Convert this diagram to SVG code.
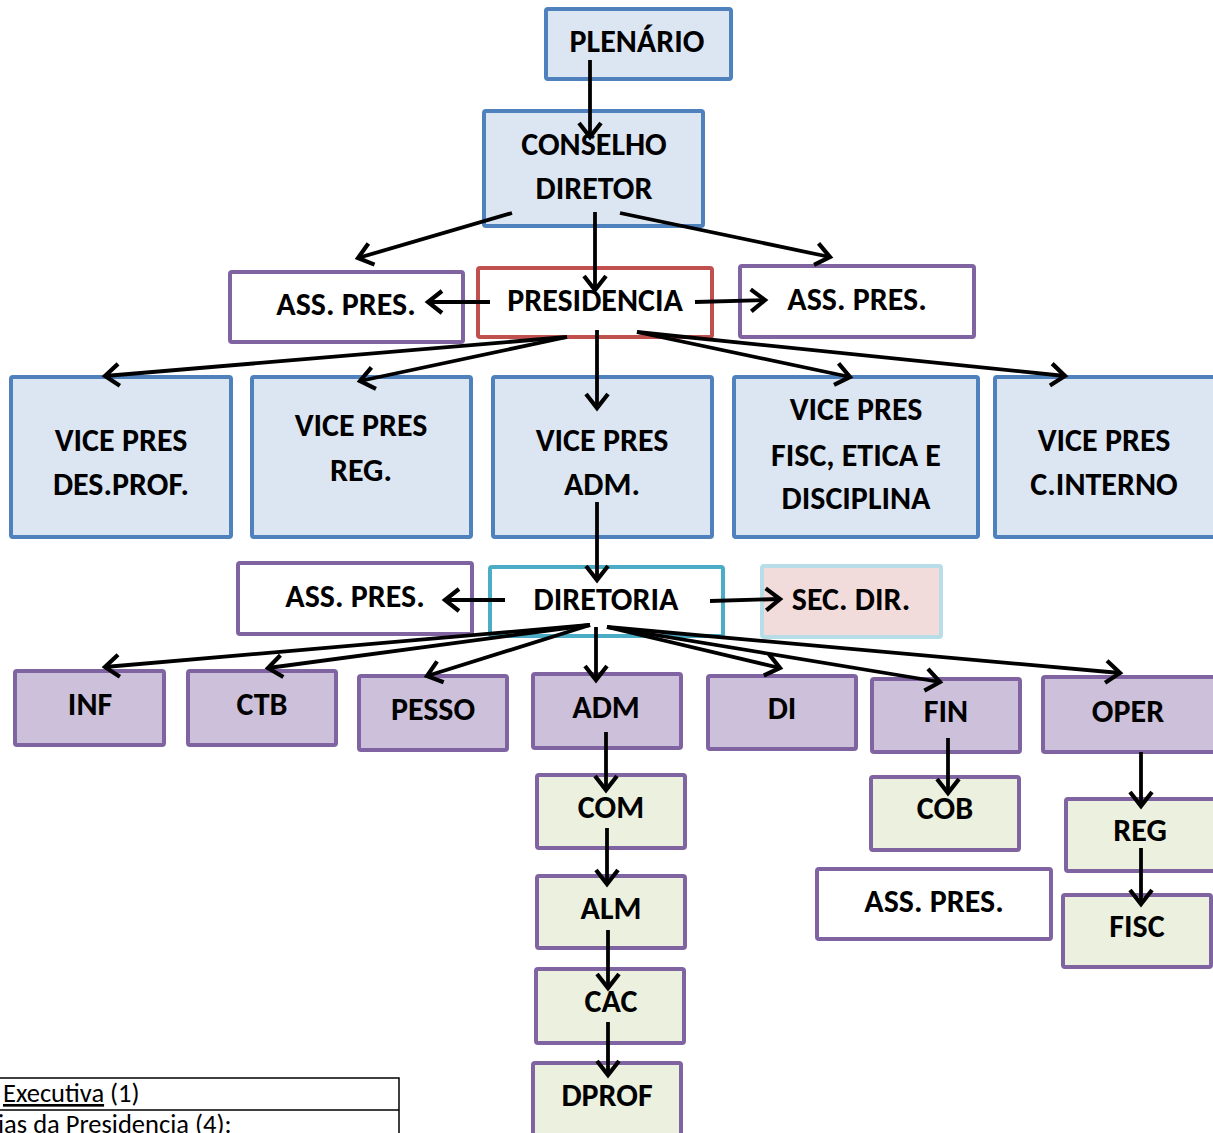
<svg xmlns="http://www.w3.org/2000/svg" width="1213" height="1133" viewBox="0 0 1213 1133">
<style>
text{font-family:Carlito,Lato,"Open Sans","Liberation Sans",sans-serif;font-weight:bold;font-size:32px;fill:#000;text-anchor:middle}
.blue{fill:#DCE6F2;stroke:#4F81BD;stroke-width:4}
.red{fill:#fff;stroke:#C0504D;stroke-width:4}
.pw{fill:#fff;stroke:#8064A2;stroke-width:4}
.pp{fill:#CCC0DA;stroke:#8064A2;stroke-width:4}
.pg{fill:#EBF1DE;stroke:#8064A2;stroke-width:4}
.cy{fill:#fff;stroke:#4BACC6;stroke-width:4}
.sec{fill:#F2DCDB;stroke:#B7DDE8;stroke-width:4}
.c line{stroke:#000;stroke-width:3.8;marker-end:url(#ah)}
.tbl{font-family:Carlito,Lato,"Liberation Sans",sans-serif;font-weight:normal;font-size:26.5px;text-anchor:start}
</style>
<defs>
<marker id="ah" markerUnits="userSpaceOnUse" viewBox="0 0 20 26" markerWidth="20" markerHeight="26" refX="16" refY="13" orient="auto" overflow="visible">
<path d="M2,2 L16,13 L2,24" fill="none" stroke="#000" stroke-width="4.2"/>
</marker>
</defs>

<g id="plenario"><rect class="blue" x="546" y="9" width="185" height="70" rx="2"/><text x="637" y="52">PLENÁRIO</text></g>
<g id="conselho"><rect class="blue" x="484" y="111" width="219" height="115" rx="2"/><text x="594" y="155">CONSELHO</text><text x="594" y="199">DIRETOR</text></g>
<g id="presidencia"><rect class="red" x="478" y="268" width="234" height="69" rx="2"/><text x="595" y="311">PRESIDENCIA</text></g>
<g id="ass1"><rect class="pw" x="230" y="272" width="233" height="70" rx="2"/><text x="346" y="315">ASS. PRES.</text></g>
<g id="ass2"><rect class="pw" x="740" y="266" width="234" height="71" rx="2"/><text x="857" y="310">ASS. PRES.</text></g>

<g id="vp1"><rect class="blue" x="11" y="377" width="220" height="160" rx="2"/><text x="121" y="451">VICE PRES</text><text x="121" y="495">DES.PROF.</text></g>
<g id="vp2"><rect class="blue" x="252" y="377" width="219" height="160" rx="2"/><text x="361" y="436">VICE PRES</text><text x="361" y="481">REG.</text></g>
<g id="vp3"><rect class="blue" x="493" y="377" width="219" height="160" rx="2"/><text x="602" y="451">VICE PRES</text><text x="602" y="495">ADM.</text></g>
<g id="vp4"><rect class="blue" x="734" y="377" width="244" height="160" rx="2"/><text x="856" y="420">VICE PRES</text><text x="856" y="466">FISC, ETICA E</text><text x="856" y="509">DISCIPLINA</text></g>
<g id="vp5"><rect class="blue" x="995" y="377" width="220" height="160" rx="2"/><text x="1104" y="451">VICE PRES</text><text x="1104" y="495">C.INTERNO</text></g>

<g id="diretoria"><rect class="cy" x="490" y="567" width="233" height="69" rx="2"/><text x="606" y="610">DIRETORIA</text></g>
<g id="ass3"><rect class="pw" x="238" y="563" width="234" height="71" rx="2"/><text x="355" y="607">ASS. PRES.</text></g>
<g id="secdir"><rect class="sec" x="762" y="566" width="179" height="71" rx="2"/><text x="851" y="610">SEC. DIR.</text></g>

<g id="inf"><rect class="pp" x="15" y="671" width="149" height="74" rx="2"/><text x="90" y="715">INF</text></g>
<g id="ctb"><rect class="pp" x="188" y="671" width="148" height="74" rx="2"/><text x="262" y="715">CTB</text></g>
<g id="pesso"><rect class="pp" x="359" y="676" width="148" height="74" rx="2"/><text x="433" y="720">PESSO</text></g>
<g id="adm"><rect class="pp" x="533" y="674" width="148" height="74" rx="2"/><text x="606" y="718">ADM</text></g>
<g id="di"><rect class="pp" x="708" y="676" width="148" height="73" rx="2"/><text x="782" y="719">DI</text></g>
<g id="fin"><rect class="pp" x="872" y="679" width="148" height="73" rx="2"/><text x="946" y="722">FIN</text></g>
<g id="oper"><rect class="pp" x="1043" y="677" width="172" height="75" rx="2"/><text x="1128" y="722">OPER</text></g>

<g id="com"><rect class="pg" x="537" y="775" width="148" height="73" rx="2"/><text x="611" y="818">COM</text></g>
<g id="alm"><rect class="pg" x="537" y="876" width="148" height="72" rx="2"/><text x="611" y="919">ALM</text></g>
<g id="cac"><rect class="pg" x="536" y="969" width="148" height="74" rx="2"/><text x="611" y="1012">CAC</text></g>
<g id="dprof"><rect class="pg" x="533" y="1063" width="148" height="80" rx="2"/><text x="607" y="1106">DPROF</text></g>
<g id="cob"><rect class="pg" x="871" y="777" width="148" height="73" rx="2"/><text x="945" y="819">COB</text></g>
<g id="ass4"><rect class="pw" x="817" y="869" width="234" height="70" rx="2"/><text x="934" y="912">ASS. PRES.</text></g>
<g id="reg"><rect class="pg" x="1066" y="799" width="149" height="72" rx="2"/><text x="1140" y="841">REG</text></g>
<g id="fisc"><rect class="pg" x="1063" y="895" width="148" height="72" rx="2"/><text x="1137" y="937">FISC</text></g>

<g id="legend">
<path d="M0,1078 H399 V1133 M0,1110 H399" fill="none" stroke="#000" stroke-width="1.5"/>
<text class="tbl" x="3" y="1102"><tspan text-decoration="underline"> Executiva</tspan> (1)</text>
<text class="tbl" x="-2" y="1133">ias da Presidencia (4):</text>
</g>

<g id="connectors" class="c">
<line x1="590" y1="60" x2="590" y2="137"/>
<line x1="512" y1="213" x2="358" y2="258"/>
<line x1="620" y1="213" x2="830" y2="257"/>
<line x1="595" y1="212" x2="595" y2="290"/>
<line x1="490" y1="302" x2="428" y2="302"/>
<line x1="695" y1="302" x2="765" y2="300"/>
<line x1="567" y1="337" x2="105" y2="376"/>
<line x1="567" y1="337" x2="360" y2="381"/>
<line x1="597" y1="330" x2="597" y2="408"/>
<line x1="637" y1="332" x2="850" y2="377"/>
<line x1="637" y1="332" x2="1065" y2="376"/>
<line x1="597" y1="502" x2="597" y2="580"/>
<line x1="505" y1="600" x2="445" y2="600"/>
<line x1="710" y1="601" x2="780" y2="599"/>
<line x1="590" y1="625" x2="105" y2="667"/>
<line x1="590" y1="625" x2="268" y2="668"/>
<line x1="590" y1="625" x2="427" y2="676"/>
<line x1="596" y1="627" x2="596" y2="680"/>
<line x1="607" y1="627" x2="780" y2="668"/>
<line x1="607" y1="627" x2="940" y2="682"/>
<line x1="607" y1="627" x2="1120" y2="673"/>
<line x1="606" y1="732" x2="606" y2="790"/>
<line x1="607" y1="828" x2="607" y2="884"/>
<line x1="608" y1="930" x2="608" y2="988"/>
<line x1="608" y1="1022" x2="608" y2="1075"/>
<line x1="948" y1="738" x2="948" y2="793"/>
<line x1="1141" y1="752" x2="1141" y2="806"/>
<line x1="1141" y1="848" x2="1141" y2="904"/>
</g>
</svg>
